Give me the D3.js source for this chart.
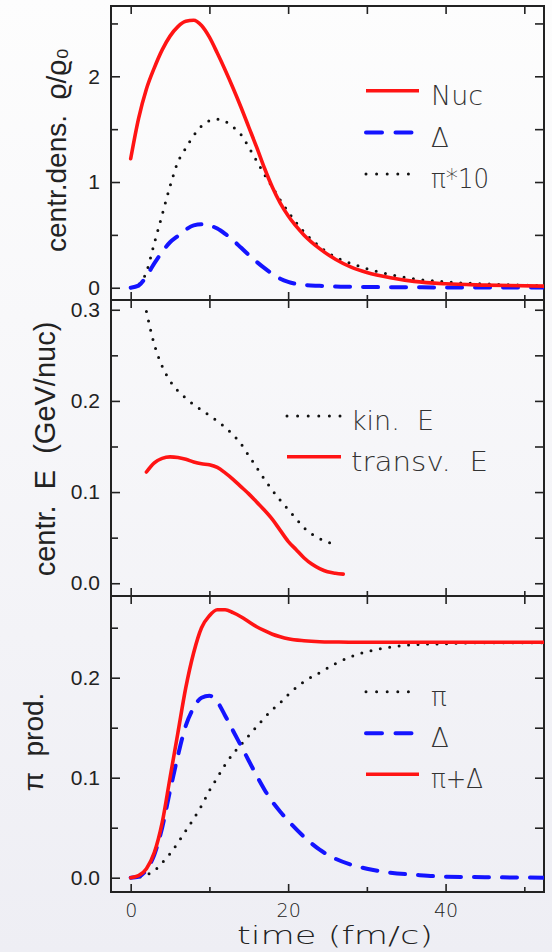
<!DOCTYPE html>
<html><head><meta charset="utf-8">
<script src="https://cdn.jsdelivr.net/npm/d3@7"></script>
<style>html,body{margin:0;padding:0;background:#f4f4f7}</style>
</head><body>
<svg id="chart" width="552" height="952"></svg>
<script>
// ---------- data ----------
// Panel 1: central density (rho/rho0)
const densTime   = [0,1,2,3,4,5,6,7,8,9,10,11,12,13,14,15,16,17,18,19,20,22,24,26,28,30,33,36,40,45,52.5];
const nucDensity = [1.22,1.6,1.88,2.08,2.25,2.38,2.47,2.52,2.53,2.48,2.37,2.22,2.06,1.89,1.71,1.52,1.33,1.13,0.95,0.8,0.68,0.5,0.37,0.27,0.195,0.145,0.095,0.06,0.037,0.025,0.015];
const deltaDensity = [0,0.02,0.11,0.23,0.34,0.43,0.49,0.55,0.59,0.6,0.59,0.56,0.51,0.45,0.38,0.31,0.245,0.185,0.13,0.085,0.055,0.027,0.018,0.012,0.009,0.007,0.005,0.004,0.003,0.003,0.002];
const pionDensity10 = [0,0.03,0.15,0.42,0.69,0.96,1.19,1.32,1.44,1.53,1.58,1.595,1.575,1.52,1.45,1.33,1.2,1.07,0.95,0.83,0.72,0.53,0.39,0.29,0.23,0.18,0.125,0.085,0.055,0.036,0.02];

// Panel 2: central energy (GeV/nuc)
const kinTime    = [2,3,4,5,6,7,8,9,10,11,12,13,14,15,16,17,18,19,20,21,22,23,24,25,26];
const kinEnergy  = [0.298,0.262,0.238,0.222,0.211,0.203,0.196,0.19,0.184,0.178,0.171,0.163,0.153,0.14,0.127,0.114,0.102,0.091,0.081,0.071,0.061,0.054,0.049,0.045,0.043];
const transvTime = [2,3,4,5,6,7,8,9,10,11,12,13,14,15,16,17,18,19,20,21,22,23,24,25,26,27];
const transvEnergy = [0.122,0.132,0.137,0.1386,0.138,0.136,0.133,0.131,0.13,0.127,0.121,0.114,0.106,0.098,0.089,0.08,0.07,0.058,0.046,0.037,0.028,0.021,0.016,0.0125,0.011,0.01];

// Panel 3: pion production
const prodTime   = [0,1,2,3,4,5,6,7,8,9,10,11,12,13,14,15,16,17,18,19,20,22,24,26,28,30,33,36,40,45,52.5];
const pionProd   = [0,0.0005,0.003,0.007,0.015,0.024,0.035,0.047,0.059,0.072,0.087,0.1,0.113,0.124,0.133,0.142,0.151,0.16,0.168,0.175,0.183,0.196,0.205,0.214,0.221,0.226,0.2305,0.233,0.234,0.235,0.235];
const deltaProd  = [0,0.001,0.008,0.023,0.05,0.087,0.122,0.152,0.17,0.18,0.182,0.176,0.162,0.147,0.132,0.117,0.102,0.088,0.076,0.066,0.057,0.041,0.028,0.019,0.013,0.009,0.005,0.003,0.001,0.0005,0];
const sumProd    = [0,0.002,0.009,0.025,0.055,0.1,0.145,0.19,0.225,0.25,0.262,0.268,0.268,0.265,0.261,0.256,0.251,0.247,0.2435,0.241,0.239,0.237,0.236,0.2357,0.2355,0.2355,0.2355,0.2355,0.2355,0.2355,0.2355];

// axis ticks
const xLabeledTicks = [0,20,40];
const xMinorTicks = [10,30,50];
const p1Labeled = [0,1,2],        p1Minor = [0.5,1.5,2.5];
const p2Labeled = [0,0.1,0.2,0.3], p2Minor = [0.05,0.15,0.25];
const p3Labeled = [0,0.1,0.2],    p3Minor = [0.05,0.15,0.25];

// ---------- drawing ----------
const RED = "#ff1414", BLUE = "#1414ff", DOT = "#111";
const svg = d3.select("#chart");
const defs = svg.append("defs");
const grad = defs.append("linearGradient").attr("id","bg").attr("x1",0).attr("y1",0).attr("x2",0).attr("y2",1);
grad.append("stop").attr("offset","0%").attr("stop-color","#fdfdfd");
grad.append("stop").attr("offset","100%").attr("stop-color","#eeeef4");
svg.append("rect").attr("width",552).attr("height",952).attr("fill","url(#bg)");

const L = 111, R = 544;
const x = d3.scaleLinear().domain([-2.5, 52.5]).range([L, R]);

const panels = [
  {top:6,   bottom:300, domain:[-0.116, 2.665],  labeled:p1Labeled, minor:p1Minor, fmt:d3.format("d")},
  {top:300, bottom:596, domain:[-0.014, 0.3107], labeled:p2Labeled, minor:p2Minor, fmt:d3.format(".1f")},
  {top:596, bottom:892, domain:[-0.0143, 0.2817], labeled:p3Labeled, minor:p3Minor, fmt:d3.format(".1f")}
];
panels.forEach((p,i)=>{
  p.y = d3.scaleLinear().domain(p.domain).range([p.bottom, p.top]);
  defs.append("clipPath").attr("id","clip"+i).append("rect")
    .attr("x",L).attr("y",p.top).attr("width",R-L).attr("height",p.bottom-p.top);
});

function styleAxis(g){
  g.select(".domain").remove();
  g.selectAll(".tick line").attr("stroke","#222").attr("stroke-width",1.6);
}

panels.forEach((p,i)=>{
  const last = i === panels.length-1;
  svg.append("g").attr("transform",`translate(${L},0)`)
    .call(d3.axisLeft(p.y).tickValues(p.labeled).tickSize(-9).tickPadding(11).tickFormat(p.fmt))
    .call(styleAxis)
    .call(g=>g.selectAll("text").attr("font-family","'Liberation Sans',Arial,sans-serif").attr("font-size",21).attr("fill","#222"));
  svg.append("g").attr("transform",`translate(${L},0)`)
    .call(d3.axisLeft(p.y).tickValues(p.minor).tickSize(-7).tickFormat(""))
    .call(styleAxis);
  svg.append("g").attr("transform",`translate(${R},0)`)
    .call(d3.axisRight(p.y).tickValues(p.labeled.concat(p.minor)).tickSize(-9).tickFormat(""))
    .call(styleAxis);
  svg.append("g").attr("transform",`translate(0,${p.top})`)
    .call(d3.axisTop(x).tickValues(xLabeledTicks.concat(xMinorTicks)).tickSize(-8).tickFormat(""))
    .call(styleAxis);
  svg.append("g").attr("transform",`translate(0,${p.bottom})`)
    .call(d3.axisBottom(x).tickValues(xLabeledTicks).tickSize(-8).tickPadding(12).tickFormat(last ? d3.format("d") : ""))
    .call(styleAxis)
    .call(g=>g.selectAll("text").attr("font-family","'DejaVu Sans',sans-serif").attr("font-weight",300).attr("font-size",19).attr("fill","#222"));
  svg.append("g").attr("transform",`translate(0,${p.bottom})`)
    .call(d3.axisBottom(x).tickValues(xMinorTicks).tickSize(-5).tickFormat(""))
    .call(styleAxis);
});

panels.forEach(p=>{
  svg.append("rect").attr("x",L).attr("y",p.top).attr("width",R-L).attr("height",p.bottom-p.top)
    .attr("fill","none").attr("stroke","#222").attr("stroke-width",2);
});

const styles = {
  solid:  {stroke:RED,  width:3.6, dash:null, cap:"round"},
  dashed: {stroke:BLUE, width:4,   dash:"15,13", cap:"round"},
  dotted: {stroke:DOT,  width:3,   dash:"0,9.5", cap:"round"}
};

function drawSeries(pi, times, values, st){
  const p = panels[pi];
  const line = d3.line().x((d,i)=>x(times[i])).y(d=>p.y(d)).curve(d3.curveMonotoneX);
  svg.append("path").datum(values)
    .attr("clip-path",`url(#clip${pi})`)
    .attr("d",line).attr("fill","none")
    .attr("stroke",st.stroke).attr("stroke-width",st.width)
    .attr("stroke-dasharray",st.dash).attr("stroke-linecap",st.cap).attr("stroke-linejoin","round");
}

drawSeries(0, densTime, pionDensity10, styles.dotted);
drawSeries(0, densTime, deltaDensity, styles.dashed);
drawSeries(0, densTime, nucDensity, styles.solid);

drawSeries(1, kinTime, kinEnergy, styles.dotted);
drawSeries(1, transvTime, transvEnergy, styles.solid);

drawSeries(2, prodTime, pionProd, styles.dotted);
drawSeries(2, prodTime, deltaProd, styles.dashed);
drawSeries(2, prodTime, sumProd, styles.solid);

// legends
const legFont = "'DejaVu Sans',sans-serif";
function legend(items, x0, x1, tx, ys, widths){
  items.forEach((it,i)=>{
    const st = styles[it.style];
    svg.append("line").attr("x1",x0).attr("x2",x1).attr("y1",ys[i]).attr("y2",ys[i])
      .attr("stroke",st.stroke).attr("stroke-width",st.width)
      .attr("stroke-dasharray", it.style==="dotted" ? "0,10.6" : (it.style==="dashed" ? "16,13.5" : null))
      .attr("stroke-linecap", it.style==="solid" ? "butt" : "round");
    const t = svg.append("text").attr("x",tx).attr("y",ys[i]+14).text(it.label)
      .attr("font-family",legFont).attr("font-weight",300).attr("font-size",26).attr("fill","#333")
      .style("white-space","pre");
    if (widths[i]) t.attr("textLength",widths[i]).attr("lengthAdjust","spacingAndGlyphs");
  });
}
legend([{label:"Nuc",style:"solid"},{label:"Δ",style:"dashed"},{label:"π*10",style:"dotted"}],
       366, 419, 431, [90.7,132.5,174], [52,null,58]);
legend([{label:"kin.  E",style:"dotted"},{label:"transv.  E",style:"solid"}],
       287, 341, 351, [416,456.7], [83,137]);
legend([{label:"π",style:"dotted"},{label:"Δ",style:"dashed"},{label:"π+Δ",style:"solid"}],
       366, 419, 431, [691.7,733.3,774.3], [null,null,52]);

// axis titles
const titleFont = "'Liberation Sans',Arial,sans-serif";
function yTitle(txt, bx, cy, size){
  svg.append("text").attr("transform",`translate(${bx},${cy}) rotate(-90)`)
    .attr("text-anchor","middle").attr("font-family",titleFont).attr("font-size",size).attr("fill","#222")
    .style("white-space","pre").text(txt);
}
yTitle("centr.dens.  ϱ/ϱ₀", 66, 150, 28);
yTitle("centr.  E  (GeV/nuc)", 55, 449, 29);
yTitle("π  prod.", 43, 742, 28);

svg.append("text").attr("x",237).attr("y",944).text("time (fm/c)")
  .attr("font-family",legFont).attr("font-weight",300).attr("font-size",24).attr("fill","#222")
  .attr("textLength",196).attr("lengthAdjust","spacingAndGlyphs").style("white-space","pre");
</script>
</body></html>
